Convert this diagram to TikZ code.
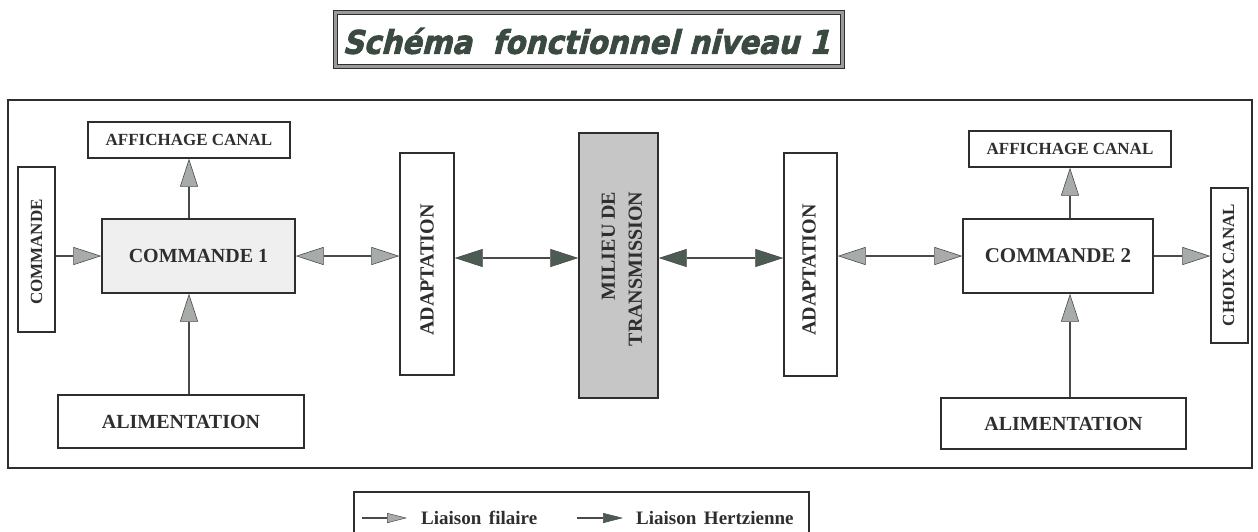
\documentclass[tikz,border=0pt]{standalone}
\usepackage{fontspec}
\usepackage{graphicx}
\setmainfont{Liberation Serif}
\newfontfamily\titlefont[BoldFeatures={FakeBold=2.5,FakeSlant=0.28}]{DejaVu Sans}
\usetikzlibrary{arrows.meta,calc}

\definecolor{ink}{HTML}{2E2E2E}
\definecolor{shaft}{HTML}{4A4A4A}
\definecolor{headL}{HTML}{A8ACA8}
\definecolor{headD}{HTML}{4C5C52}
\definecolor{titleInk}{HTML}{3B4A41}
\definecolor{bandGrey}{HTML}{9A9A9A}
\definecolor{stippleL}{HTML}{EFEFEF}
\definecolor{stippleD}{HTML}{C6C6C6}

\tikzset{
  Fil/.tip={Triangle[length=28pt,width=18pt,fill=headL,line width=0.6pt]},
  Hz/.tip={Triangle[length=28pt,width=18pt,fill=headD,line width=0.6pt]},
  FilS/.tip={Triangle[length=20pt,width=10pt,fill=headL,line width=0.5pt]},
  HzS/.tip={Triangle[length=20pt,width=10pt,fill=headD,line width=0.5pt]},
  box/.style={draw=ink, line width=1.4pt, inner sep=0pt, fill=white},
  link/.style={draw=shaft, line width=1.6pt},
  vtext/.style={rotate=90, inner sep=0pt, text=ink},
  big/.style={font=\fontsize{20}{24}\selectfont\bfseries, text=ink},
  mid/.style={font=\fontsize{17}{20}\selectfont\bfseries, text=ink},
}

\begin{document}
\begin{tikzpicture}[x=1pt,y=-1pt]
\useasboundingbox (0,0) rectangle (1258,531);
\clip (0,0) rectangle (1258,531);

% title banner
\node[draw=ink, line width=0.8pt, double=bandGrey, double distance=3.5pt,
      minimum width=507pt, minimum height=54pt, inner sep=0pt] (title) at (589,39.5) {};
\node[inner sep=0pt, text=titleInk] (titleTxt) at (586,41)
  {\resizebox{487pt}{26pt}{\titlefont\bfseries Sch\'ema\ \ fonctionnel niveau 1}};

% outer frame
\node[draw=ink, line width=1.4pt, minimum width=1244pt, minimum height=368pt, inner sep=0pt]
  (frame) at (630,284) {};

% left side
\node[box, minimum width=37pt, minimum height=165pt] (cmdL) at (36.5,249.5) {};
\node[vtext, mid] (cmdLTxt) at (36.5,252) {COMMANDE};
\node[box, mid, minimum width=202pt, minimum height=36pt] (affL) at (189,140) {AFFICHAGE CANAL};
\node[box, big, fill=stippleL, minimum width=193pt, minimum height=74pt] (cmd1) at (198.5,256) {COMMANDE 1};
\node[box, big, minimum width=246pt, minimum height=53pt] (alimL) at (181,421.5) {ALIMENTATION};
\node[box, minimum width=54pt, minimum height=222pt] (adaL) at (427,264) {};
\node[vtext, big] (adaLTxt) at (427,270) {ADAPTATION};

% transmission medium
\node[box, fill=stippleD, minimum width=79pt, minimum height=265pt] (milieu) at (618.5,265.5) {};
\node[vtext, align=right, font=\fontsize{20}{27}\selectfont\bfseries, text=ink]
  (milieuTxt) at (622,269) {MILIEU DE\\TRANSMISSION};

% right side
\node[box, minimum width=53pt, minimum height=223pt] (adaR) at (810.5,264.5) {};
\node[vtext, big] (adaRTxt) at (809,270) {ADAPTATION};
\node[box, font=\fontsize{21}{25}\selectfont\bfseries, text=ink, minimum width=190pt, minimum height=74pt] (cmd2) at (1058,256) {COMMANDE 2};
\node[box, mid, minimum width=202pt, minimum height=36pt] (affR) at (1070,149) {AFFICHAGE CANAL};
\node[box, minimum width=37pt, minimum height=155pt] (choix) at (1229.5,265.5) {};
\node[vtext, mid] (choixTxt) at (1228.5,265) {CHOIX CANAL};
\node[box, big, minimum width=245pt, minimum height=51pt] (alimR) at (1063.5,423.5) {ALIMENTATION};

% wired links
\draw[link, -Fil] (cmdL.east |- cmd1) -- (cmd1.west);
\draw[link, -Fil] (cmd1.north -| affL) -- (affL.south);
\draw[link, -Fil] (alimL.north -| affL) -- (cmd1.south -| affL);
\draw[link, Fil-Fil] (cmd1.east) -- (adaL.west |- cmd1);
\draw[link, Fil-Fil] (adaR.east |- cmd2) -- (cmd2.west);
\draw[link, -Fil] (cmd2.north -| affR) -- (affR.south);
\draw[link, -Fil] (alimR.north -| affR) -- (cmd2.south -| affR);
\draw[link, -Fil] (cmd2.east) -- (choix.west |- cmd2);

% radio links
\coordinate (hz) at (0,258);
\draw[link, Hz-Hz] (adaL.east |- hz) -- (milieu.west |- hz);
\draw[link, Hz-Hz] (milieu.east |- hz) -- (adaR.west |- hz);

% legend
\node[draw=ink, line width=1.2pt, minimum width=455pt, minimum height=60pt, inner sep=0pt]
  (legend) at (581.5,522) {};
\coordinate (lf1) at (362,518);
\coordinate (lf2) at (407,518);
\coordinate (lh1) at (577,518);
\coordinate (lh2) at (623,518);
\draw[link, line width=1.3pt, -FilS] (lf1) -- (lf2);
\draw[link, line width=1.3pt, -HzS] (lh1) -- (lh2);
\node[anchor=west, font=\fontsize{19}{22}\selectfont\bfseries, text=ink, inner sep=0pt]
  (legFil) at (421,518) {Liaison\hspace{0.4em}filaire};
\node[anchor=west, font=\fontsize{19}{22}\selectfont\bfseries, text=ink, inner sep=0pt]
  (legHz) at (636,518) {Liaison\hspace{0.4em}Hertzienne};
\end{tikzpicture}
\end{document}
